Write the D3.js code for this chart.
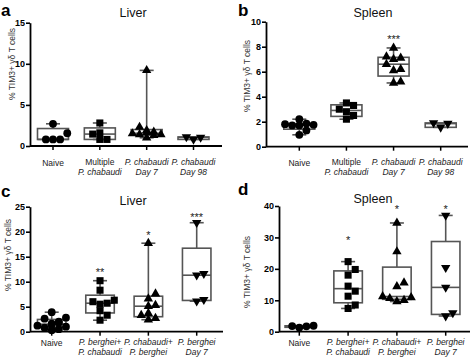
<!DOCTYPE html>
<html>
<head>
<meta charset="utf-8">
<script src="https://cdn.jsdelivr.net/npm/d3@7"></script>
<style>
    body { margin: 0; background: #fff; }
    svg { display: block; font-family: Arial, "Liberation Sans", sans-serif; }
</style>
</head>
<body>
<div id="chart"></div>
<script>
// ---------- data ----------
const yTitle = '% TIM3+ \u03b3\u03b4 T cells';

// category labels: [text, italic]
const topLabels = [
    [['Naive', false]],
    [['Multiple', false], ['P. chabaudi', true]],
    [['P. chabaudi', true], ['Day 7', true]],
    [['P. chabaudi', true], ['Day 98', true]]
];
const bottomLabels = [
    [['Naive', false]],
    [['P. berghei+', true], ['P. chabaudi', true]],
    [['P. chabaudi+', true], ['P. berghei', true]],
    [['P. berghei', true], ['Day 7', true]]
];

const liverA = [
    [2.7, 0.8, 0.8, 0.8, 1.55],
    [2.8, 1.45, 1.6, 0.8, 0.8],
    [9.2, 2.3, 1.9, 1.7, 1.6, 1.5, 1.4, 1.4, 1.3, 1.0],
    [1.1, 0.8, 1.05]
];
const spleenB = [
    [2.2, 1.85, 1.8, 1.75, 1.7, 1.7, 1.3, 0.95],
    [3.5, 3.3, 3.0, 2.8, 2.5, 2.2],
    [7.9, 7.2, 7.1, 7.0, 6.6, 6.2, 6.1, 5.2, 5.1],
    [1.9, 1.55, 1.85]
];
const liverC = [
    [3.9, 2.8, 2.6, 2.0, 1.8, 1.6, 1.4, 1.2, 1.0, 0.8, 0.5, 0.3],
    [10.2, 8.3, 6.3, 6.0, 5.7, 5.5, 4.2, 3.3, 2.3],
    [17.7, 7.6, 6.6, 5.3, 5.1, 3.7, 3.3, 2.7, 2.4],
    [21.8, 11.6, 11.3, 6.4, 6.1]
];
const spleenD = [
    [1.8, 1.3, 1.7, 1.9],
    [22.3, 19.8, 18.0, 14.5, 12.9, 11.3, 8.5, 7.4],
    [34.6, 25.5, 15.6, 14.4, 11.2, 10.9, 10.6, 10.0, 9.6],
    [37.0, 20.4, 14.1, 6.0, 5.0]
];

const yTicksA = [0, 5, 10, 15];
const yTicksB = [0, 2, 4, 6, 8, 10];
const yTicksC = [0, 5, 10, 15, 20, 25];
const yTicksD = [0, 10, 20, 30, 40];

// significance marks and the value level they sit at
const starsB = ['', '', '***', ''];
const starLevelB = [null, null, 8.8, null];
const starsC = ['', '**', '*', '***'];
const starLevelC = [null, 12.3, 19.7, 23.3];
const starsD = ['', '*', '*', '*'];
const starLevelD = [null, 29.9, 39.7, 39.8];

// ---------- layout ----------
const panels = [
    { letter: 'a', title: 'Liver', values: liverA, labels: topLabels, ticks: yTicksA, stars: null, starLevel: null,
      left: 30, xFirst: 53, xLast: 193.5, xEnd: 222, y0: 146, yTop: 22.7, boxW: 31,
      letterX: 1, letterY: 16, titleX: 133, titleY: 17, yTitleX: 12, yTitleY: 64, labelY: 166 },
    { letter: 'b', title: 'Spleen', values: spleenB, labels: topLabels, ticks: yTicksB, stars: starsB, starLevel: starLevelB,
      left: 266, xFirst: 299.3, xLast: 440.7, xEnd: 468, y0: 146.7, yTop: 21.7, boxW: 31,
      letterX: 238, letterY: 16, titleX: 373, titleY: 17, yTitleX: 247, yTitleY: 76, labelY: 166 },
    { letter: 'c', title: 'Liver', values: liverC, labels: bottomLabels, ticks: yTicksC, stars: starsC, starLevel: starLevelC,
      left: 30, xFirst: 51.7, xLast: 196.7, xEnd: 223, y0: 331.7, yTop: 206.7, boxW: 28.5,
      letterX: 1, letterY: 197, titleX: 133, titleY: 205, yTitleX: 8, yTitleY: 255, labelY: 346 },
    { letter: 'd', title: 'Spleen', values: spleenD, labels: bottomLabels, ticks: yTicksD, stars: starsD, starLevel: starLevelD,
      left: 279, xFirst: 299.3, xLast: 445.7, xEnd: 470, y0: 331.7, yTop: 206, boxW: 28.5,
      letterX: 238, letterY: 195, titleX: 373, titleY: 203, yTitleX: 247, yTitleY: 272, labelY: 346 }
];

const symbols = [
    { type: d3.symbolCircle, size: 48, rotate: 0 },
    { type: d3.symbolSquare, size: 50, rotate: 0 },
    { type: d3.symbolTriangle, size: 38, rotate: 0 },
    { type: d3.symbolTriangle, size: 38, rotate: 180 }
];
const markerSize = 7.5;
const boxStroke = '#555';

// quartiles the way Prism does them (position p*(n+1))
function quart(sorted, p) {
    const n = sorted.length;
    const pos = p * (n + 1);
    if (pos <= 1) return sorted[0];
    if (pos >= n) return sorted[n - 1];
    const lo = Math.floor(pos);
    return sorted[lo - 1] + (pos - lo) * (sorted[lo] - sorted[lo - 1]);
}

// simple deterministic swarm so that points don't sit on top of each other
function swarm(values, y, halfWidth) {
    const step = markerSize * 0.95;
    const cands = [0];
    for (let k = 1; k * step <= halfWidth; k++) cands.push(k * step, -k * step);
    const order = values.map((v, i) => i).sort((a, b) => values[a] - values[b]);
    const placed = [];
    const out = new Array(values.length);
    order.forEach(i => {
        const py = y(values[i]);
        let best = 0, bestHits = Infinity;
        for (const dx of cands) {
            const hits = placed.filter(p => Math.abs(p.dx - dx) < step * 0.99 && Math.abs(p.py - py) < markerSize * 0.85).length;
            if (hits < bestHits) { best = dx; bestHits = hits; }
            if (hits === 0) break;
        }
        placed.push({ dx: best, py });
        out[i] = best;
    });
    return out;
}

const svg = d3.select('#chart').append('svg')
    .attr('width', 472)
    .attr('height', 359);

panels.forEach(p => drawPanel(p));

function drawPanel(p) {
    const g = svg.append('g').attr('class', 'panel-' + p.letter);
    const n = p.values.length;
    const cats = d3.range(n);

    const x = d3.scalePoint().domain(cats).range([p.xFirst, p.xLast]);
    const y = d3.scaleLinear().domain([0, d3.max(p.ticks)]).range([p.y0, p.yTop]);

    // y axis
    const yAxis = d3.axisLeft(y).tickValues(p.ticks).tickSize(4).tickPadding(1).tickSizeOuter(0);
    const yg = g.append('g').attr('transform', `translate(${p.left},0)`).call(yAxis);
    yg.select('.domain').attr('stroke', '#000').attr('stroke-width', 1.8);
    yg.selectAll('.tick line').attr('stroke', '#000').attr('stroke-width', 1.6);
    yg.selectAll('.tick text').attr('font-size', 9).attr('font-weight', 'bold').attr('fill', '#000')
        .attr('font-family', 'Arial, "Liberation Sans", sans-serif');

    // x axis
    g.append('line')
        .attr('x1', p.left).attr('x2', p.xEnd)
        .attr('y1', p.y0).attr('y2', p.y0)
        .attr('stroke', '#000').attr('stroke-width', 1.8);
    g.selectAll('.xtick').data(cats).enter().append('line')
        .attr('x1', d => x(d)).attr('x2', d => x(d))
        .attr('y1', p.y0).attr('y2', p.y0 + 4)
        .attr('stroke', '#000').attr('stroke-width', 1.5);

    // category labels
    const lab = g.selectAll('.xlabel').data(cats).enter().append('text')
        .attr('text-anchor', 'middle')
        .attr('font-size', 8.5)
        .attr('fill', '#222');
    lab.each(function (d) {
        const lines = p.labels[d];
        const t = d3.select(this);
        const startY = lines.length === 1 ? p.labelY : p.labelY - 1.5;
        lines.forEach((ln, i) => {
            t.append('tspan')
                .attr('x', x(d))
                .attr('y', lines.length === 1 ? startY : startY + i * 10.5)
                .attr('font-style', ln[1] ? 'italic' : 'normal')
                .text(ln[0]);
        });
    });

    // boxes
    cats.forEach(c => {
        const vals = p.values[c].slice().sort((a, b) => a - b);
        const q1 = quart(vals, 0.25), med = quart(vals, 0.5), q3 = quart(vals, 0.75);
        const lo = vals[0], hi = vals[vals.length - 1];
        const cx = x(c), w = p.boxW, cap = 14;
        const bg = g.append('g').attr('stroke', boxStroke).attr('stroke-width', 1.6).attr('fill', 'none');
        bg.append('line').attr('x1', cx).attr('x2', cx).attr('y1', y(hi)).attr('y2', y(q3));
        bg.append('line').attr('x1', cx).attr('x2', cx).attr('y1', y(q1)).attr('y2', y(lo));
        bg.append('line').attr('x1', cx - cap / 2).attr('x2', cx + cap / 2).attr('y1', y(hi)).attr('y2', y(hi));
        bg.append('line').attr('x1', cx - cap / 2).attr('x2', cx + cap / 2).attr('y1', y(lo)).attr('y2', y(lo));
        bg.append('rect').attr('x', cx - w / 2).attr('width', w)
            .attr('y', y(q3)).attr('height', Math.max(0.5, y(q1) - y(q3)));
        bg.append('line').attr('x1', cx - w / 2).attr('x2', cx + w / 2).attr('y1', y(med)).attr('y2', y(med));

        // points
        const offs = swarm(p.values[c], y, w / 2);
        const sym = symbols[c];
        g.selectAll('.pt-' + c).data(p.values[c]).enter().append('path')
            .attr('d', d3.symbol().type(sym.type).size(sym.size))
            .attr('transform', (v, i) => `translate(${cx + offs[i]},${y(v)}) rotate(${sym.rotate})`)
            .attr('fill', '#000');

        // significance
        if (p.stars && p.stars[c]) {
            g.append('text')
                .attr('x', cx).attr('y', y(p.starLevel[c]) + 6)
                .attr('text-anchor', 'middle')
                .attr('font-size', 11)
                .attr('fill', '#222')
                .text(p.stars[c]);
        }
    });

    // titles
    g.append('text').attr('x', p.letterX).attr('y', p.letterY)
        .attr('font-size', 17).attr('font-weight', 'bold').attr('fill', '#000').text(p.letter);
    g.append('text').attr('x', p.titleX).attr('y', p.titleY)
        .attr('text-anchor', 'middle').attr('font-size', 12.5).attr('fill', '#111').text(p.title);
    g.append('text')
        .attr('transform', `translate(${p.yTitleX + 3},${p.yTitleY}) rotate(-90)`)
        .attr('text-anchor', 'middle').attr('font-size', 8.5).attr('fill', '#333').text(yTitle);
}
</script>
</body>
</html>
